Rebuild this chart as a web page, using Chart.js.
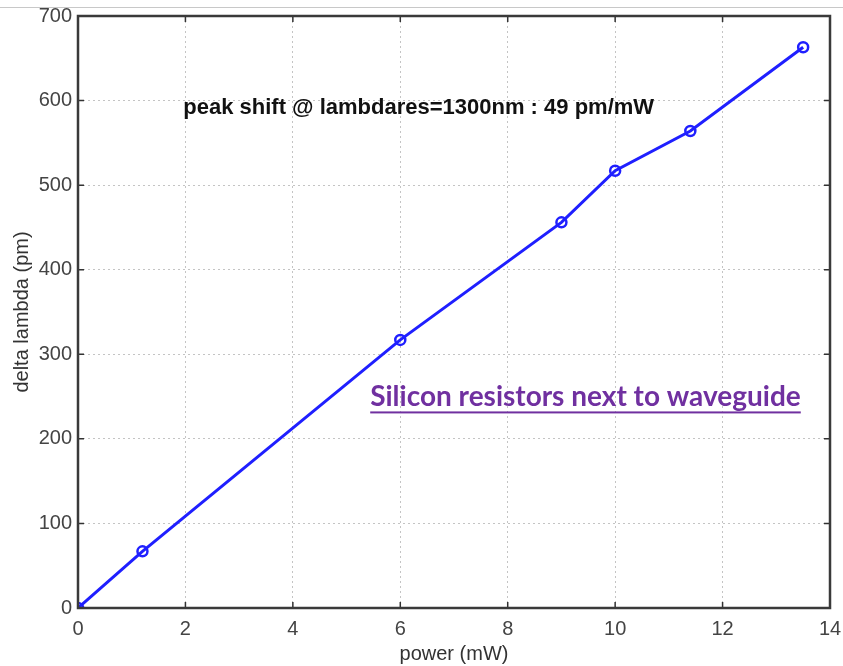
<!doctype html>
<html lang="en">
  <head>
    <meta charset="UTF-8" />
    <title>delta lambda vs power</title>
    <script src="https://cdn.jsdelivr.net/npm/chart.js"></script>
    <style>
      body { margin: 0; background: #fff; }
      #wrap { position: relative; width: 843px; height: 666px; }
      #topline { position: absolute; left: 0; top: 7px; width: 843px; height: 1px; background: #c8c8c8; }
    </style>
  </head>
  <body>
    <div id="wrap">
      <div id="topline"></div>
      <canvas id="shiftChart"></canvas>
    </div>

    <script>
      // power (mW) and measured peak shift (pm)
      const powerMW = [0, 1.2, 6, 9, 10, 11.4, 13.5];
      const deltaPm = [0, 67, 317, 456, 517, 564, 663];
      const xTicks = [0, 2, 4, 6, 8, 10, 12, 14];
      const yTicks = [0, 100, 200, 300, 400, 500, 600, 700];
      const noteText = "peak shift @ lambdares=1300nm : 49 pm/mW";
      const labelText = "Silicon resistors next to waveguide";

      const points = powerMW.map((p, i) => ({ x: p, y: deltaPm[i] }));
      const axisFont = { family: "'Liberation Sans', Arial, sans-serif", size: 20 };

      // box round the plot plus matlab-style inward ticks
      const boxPlugin = {
        id: "box",
        afterDraw(chart) {
          const { ctx, chartArea: a, scales } = chart;
          ctx.save();
          ctx.strokeStyle = "#333";
          ctx.lineWidth = 1.5;
          xTicks.forEach((v) => {
            const px = scales.x.getPixelForValue(v);
            ctx.beginPath();
            ctx.moveTo(px, a.bottom); ctx.lineTo(px, a.bottom - 6);
            ctx.moveTo(px, a.top); ctx.lineTo(px, a.top + 6);
            ctx.stroke();
          });
          yTicks.forEach((v) => {
            const py = scales.y.getPixelForValue(v);
            ctx.beginPath();
            ctx.moveTo(a.left, py); ctx.lineTo(a.left + 6, py);
            ctx.moveTo(a.right, py); ctx.lineTo(a.right - 6, py);
            ctx.stroke();
          });
          ctx.strokeStyle = "#3a3a3a";
          ctx.lineWidth = 2.5;
          ctx.strokeRect(a.left, a.top, a.right - a.left, a.bottom - a.top);

          // text annotations
          ctx.fillStyle = "#111";
          ctx.font = "bold 22px 'Liberation Sans', Arial, sans-serif";
          ctx.textBaseline = "middle";
          ctx.textAlign = "left";
          ctx.fillText(noteText, scales.x.getPixelForValue(1.96), scales.y.getPixelForValue(591));

          ctx.fillStyle = "#7030a0";
          ctx.font = "bold 28px Lato, 'Open Sans', sans-serif";
          const lx = scales.x.getPixelForValue(5.44);
          const ly = scales.y.getPixelForValue(249);
          ctx.fillText(labelText, lx, ly);
          const w = ctx.measureText(labelText).width;
          ctx.fillRect(lx, ly + 14, w, 2);
          ctx.restore();
        },
      };

      new Chart(document.getElementById("shiftChart"), {
        type: "scatter",
        data: {
          datasets: [
            {
              data: points,
              showLine: true,
              borderColor: "#1f1fff",
              borderWidth: 3,
              tension: 0,
              pointRadius: 5,
              pointBorderWidth: 2.5,
              pointBackgroundColor: "rgba(255,255,255,0)",
              pointBorderColor: "#1f1fff",
            },
          ],
        },
        options: {
          responsive: true,
          maintainAspectRatio: false,
          animation: false,
          layout: { padding: { top: 16, right: 13, left: 0, bottom: 0 } },
          plugins: { legend: { display: false }, tooltip: { enabled: false } },
          scales: {
            x: {
              type: "linear",
              min: 0,
              max: 14,
              afterBuildTicks: (s) => { s.ticks = xTicks.map((v) => ({ value: v })); },
              afterFit: (s) => { s.height = 58; s.paddingLeft = 0; s.paddingRight = 0; },
              grid: { color: "#c4c4c4", tickLength: 0, lineWidth: 1 },
              border: { display: false, dash: [2, 3] },
              ticks: { color: "#444", font: axisFont, padding: 9 },
              title: { display: true, text: "power (mW)", color: "#333", font: axisFont, padding: { top: 0, bottom: 0 } },
            },
            y: {
              type: "linear",
              min: 0,
              max: 700,
              afterBuildTicks: (s) => { s.ticks = yTicks.map((v) => ({ value: v })); },
              afterFit: (s) => { s.width = 78; s.paddingTop = 0; s.paddingBottom = 0; },
              grid: { color: "#c4c4c4", tickLength: 0, lineWidth: 1 },
              border: { display: false, dash: [2, 3] },
              ticks: { color: "#444", font: axisFont, padding: 6 },
              title: { display: true, text: "delta lambda (pm)", color: "#333", font: axisFont, padding: { top: 10, bottom: 0 } },
            },
          },
        },
        plugins: [boxPlugin],
      });
    </script>
  </body>
</html>
